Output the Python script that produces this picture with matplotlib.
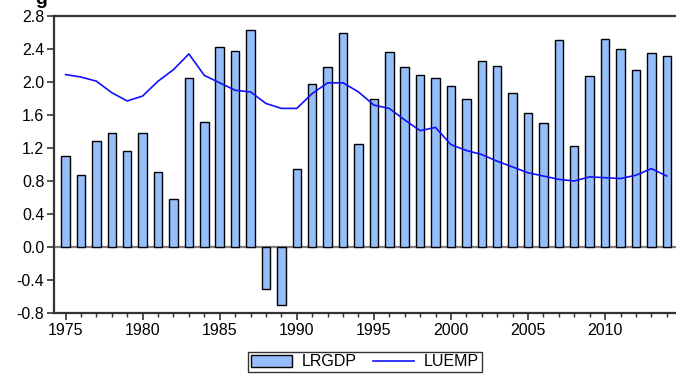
import matplotlib.pyplot as plt
from matplotlib.ticker import MultipleLocator

plt.rcParams['font.family'] = ['Liberation Sans', 'DejaVu Sans']

years = list(range(1975, 2015))
lrgdp = [1.10, 0.87, 1.28, 1.38, 1.16, 1.38, 0.91, 0.58, 2.05, 1.52,
         2.43, 2.38, 2.63, -0.51, -0.70, 0.95, 1.97, 2.18, 2.59, 1.25,
         1.80, 2.36, 2.18, 2.09, 2.05, 1.95, 1.80, 2.26, 2.19, 1.87,
         1.62, 1.50, 2.51, 1.22, 2.07, 2.52, 2.40, 2.15, 2.35, 2.32]
luemp = [2.09, 2.06, 2.01, 1.87, 1.77, 1.83, 2.01, 2.15, 2.34, 2.08,
         1.99, 1.90, 1.88, 1.74, 1.68, 1.68, 1.86, 1.99, 1.99, 1.88,
         1.72, 1.68, 1.54, 1.41, 1.45, 1.24, 1.17, 1.12, 1.04, 0.97,
         0.90, 0.86, 0.82, 0.80, 0.85, 0.84, 0.83, 0.87, 0.95, 0.86]
yticks = [-0.8, -0.4, 0.0, 0.4, 0.8, 1.2, 1.6, 2.0, 2.4, 2.8]

fig = plt.figure(figsize=(6.76, 3.77), dpi=100)
ax = fig.add_axes([54/676, 1 - 313/377, 1 - 54/676, (313 - 16)/377])

ax.axhline(0, color='#808080', lw=1.6, zorder=1)
bars = ax.bar(years, lrgdp, width=0.55, color='#96bffa', edgecolor='black',
              linewidth=1.0, label='LRGDP', zorder=2)
line, = ax.plot(years, luemp, color='#1010ff', lw=1.2, label='LUEMP', zorder=3)

ax.set_xlim(1974.25, 2014.6)
ax.set_ylim(-0.8, 2.8)
ax.set_yticks(yticks)
ax.set_yticklabels([f'{v:.1f}' for v in yticks])
ax.xaxis.set_major_locator(MultipleLocator(5))
ax.xaxis.set_minor_locator(MultipleLocator(1))

for s in ['left', 'bottom', 'top']:
    ax.spines[s].set_color('#333333')
    ax.spines[s].set_linewidth(1.6)
ax.spines['right'].set_visible(False)
ax.tick_params(axis='both', which='major', direction='out', length=5,
               width=1.2, color='#333333', labelsize=11.5, pad=2)
ax.tick_params(axis='x', which='minor', direction='out', length=3,
               width=1.0, color='#333333')

fig.text(0.052, 1.0, 'g', fontsize=14, fontweight='bold', va='center')

leg = fig.legend([bars, line], ['LRGDP', 'LUEMP'], loc='upper center',
                 bbox_to_anchor=(365/676, 1 - 352/377),
                 ncol=2, frameon=True, fancybox=False, fontsize=11.5,
                 handlelength=2.6, handleheight=0.8, borderpad=0.15,
                 borderaxespad=0.0, columnspacing=1.0, handletextpad=0.6)
leg.get_frame().set_edgecolor('black')
leg.get_frame().set_linewidth(1.0)

fig.savefig('out.png', dpi=100)
